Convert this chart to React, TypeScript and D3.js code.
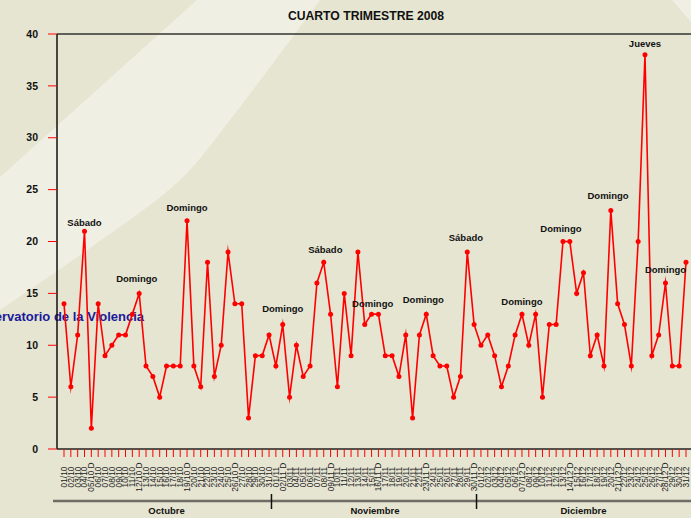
import React from 'react';
import * as d3 from 'd3';

const W = 691, H = 518;

const octValues = [14,6,11,21,2,14,9,10,11,11,13,15,8,7,5,8,8,8,22,8,6,18,7,10,19,14,14,3,9,9,11];
const novValues = [8,12,5,10,7,8,16,18,13,6,15,9,19,12,13,13,9,9,7,11,3,11,13,9,8,8,5,7,19,12];
const decValues = [10,11,9,6,8,11,13,10,13,5,12,12,20,20,15,17,9,11,8,23,14,12,8,20,38,9,11,16,8,8,18];
const values = [...octValues, ...novValues, ...decValues];

const octLabels = ['01/10','02/10','03/10','04/10','05/10 D','06/10','07/10','08/10','09/10','10/10','11/10','12/10 D','13/10','14/10','15/10','16/10','17/10','18/10','19/10 D','20/10','21/10','22/10','23/10','24/10','25/10','26/10 D','27/10','28/10','29/10','30/10','31/10'];
const novLabels = ['01/11','02/11 D','03/11','04/11','05/11','06/11','07/11','08/11','09/11 D','10/11','11/11','12/11','13/11','14/11','15/11','16/11 D','17/11','18/11','19/11','20/11','21/11','22/11','23/11 D','24/11','25/11','26/11','27/11','28/11','29/11','30/11 D'];
const decLabels = ['01/12','02/12','03/12','04/12','05/12','06/12','07/12 D','08/12','09/12','10/12','11/12','12/12','13/12','14/12 D','15/12','16/12','17/12','18/12','19/12','20/12','21/12 D','22/12','23/12','24/12','25/12','26/12','27/12','28/12 D','29/12','30/12','31/12'];
const dayLabels = [...octLabels, ...novLabels, ...decLabels];

const months = ['Octubre', 'Noviembre', 'Diciembre'];
const monthLengths = [octValues.length, novValues.length, decValues.length];

const yTicks = [0, 5, 10, 15, 20, 25, 30, 35, 40];

// annotation: position (day index) and label height in data units
const annIdx = [3, 10.64, 18, 32, 38.23, 45.16, 52.57, 58.8, 67, 72.7, 79.6, 85, 88];
const annAt = [21.8, 16.4, 23.25, 13.5, 19.2, 14.0, 14.4, 20.4, 14.2, 21.2, 24.4, 39.1, 17.25];
const annText = ['Sábado','Domingo','Domingo','Domingo','Sábado','Domingo','Domingo','Sábado','Domingo','Domingo','Domingo','Jueves','Domingo'];

const title = 'CUARTO TRIMESTRE 2008';
const watermark = 'Observatorio de la Violencia';

const FONT = '"Liberation Sans", Arial, Helvetica, sans-serif';

export default function App() {
  const x = d3.scaleLinear().domain([0, values.length - 1]).range([64, 686]);
  const y = d3.scaleLinear().domain([0, 40]).range([449, 34]);
  const line = d3.line<number>().x((_, i) => x(i)).y(d => y(d));

  const bandRight = d3.line<[number, number]>().curve(d3.curveCatmullRom)([
    [0, 310], [90, 248], [180, 180], [230, 120], [320, 0]
  ])!;
  const bandPath = `M197,0 L0,177 L${bandRight.slice(1)} Z`;

  let start = 0;
  const groups = months.map((m, k) => {
    const g = { name: m, first: start, last: start + monthLengths[k] - 1 };
    start += monthLengths[k];
    return g;
  });

  return (
    <svg width={W} height={H} style={{ position: 'absolute', left: 0, top: 0 }} fontFamily={FONT}>
      <rect x={0} y={0} width={W} height={H} fill="#e6e5d2" />
      <path d={bandPath} fill="#efefe3" />
      <path d="M672,0 L691,0 L691,22 Z" fill="#efefe3" />

      <text x={366} y={20} textAnchor="middle" fontSize={12.2} fontWeight="bold" fill="#111">{title}</text>

      <text x={144} y={321} textAnchor="end" fontSize={13} fontWeight="bold" fill="#1a1a9a">{watermark}</text>

      {/* frame */}
      <line x1={57} x2={W} y1={34} y2={34} stroke="#333" strokeWidth={1.5} />
      <line x1={57} x2={57} y1={34} y2={449} stroke="#111" strokeWidth={1.5} />
      <line x1={57} x2={W} y1={449} y2={449} stroke="#222" strokeWidth={1.5} />

      {/* y axis */}
      {yTicks.map(t => (
        <g key={t}>
          <line x1={48} x2={57} y1={y(t)} y2={y(t)} stroke="#ff0000" strokeWidth={1} />
          <text x={38} y={y(t)} dy="0.35em" textAnchor="end" fontSize={10.5} fontWeight="bold" fill="#111">{t}</text>
        </g>
      ))}

      {/* x axis ticks */}
      {dayLabels.map((lab, i) => (
        <g key={i}>
          <line x1={x(i)} x2={x(i)} y1={449} y2={457} stroke="#ff0000" strokeWidth={1} />
          <text transform={`translate(${x(i)},477) rotate(-90)`} textAnchor="middle" dy="0.35em" fontSize={8.4} fill="#222">{lab}</text>
        </g>
      ))}

      {/* month groups */}
      <line x1={53} x2={W} y1={501} y2={501} stroke="#6e6e66" strokeWidth={2.5} />
      {groups.slice(1).map(g => (
        <line key={g.name} x1={x(g.first - 0.5) - 1} x2={x(g.first - 0.5) - 1} y1={494} y2={509} stroke="#111" strokeWidth={1.5} />
      ))}
      {groups.map(g => (
        <text key={g.name} x={x((g.first + g.last) / 2)} y={511} dy="0.35em" textAnchor="middle" fontSize={9.5} fontWeight="bold" fill="#111">{g.name}</text>
      ))}

      {/* series */}
      <path d={line(values)!} fill="none" stroke="#ff0000" strokeWidth={1.6} strokeLinejoin="miter" strokeMiterlimit={10} />
      {values.map((v, i) => (
        <circle key={i} cx={x(i)} cy={y(v)} r={2.5} fill="#ff0000" />
      ))}

      {/* annotations */}
      {annText.map((t, k) => (
        <text key={k} x={x(annIdx[k])} y={y(annAt[k])} dy="0.35em" textAnchor="middle" fontSize={9.5} fontWeight="bold" fill="#111">{t}</text>
      ))}
    </svg>
  );
}
